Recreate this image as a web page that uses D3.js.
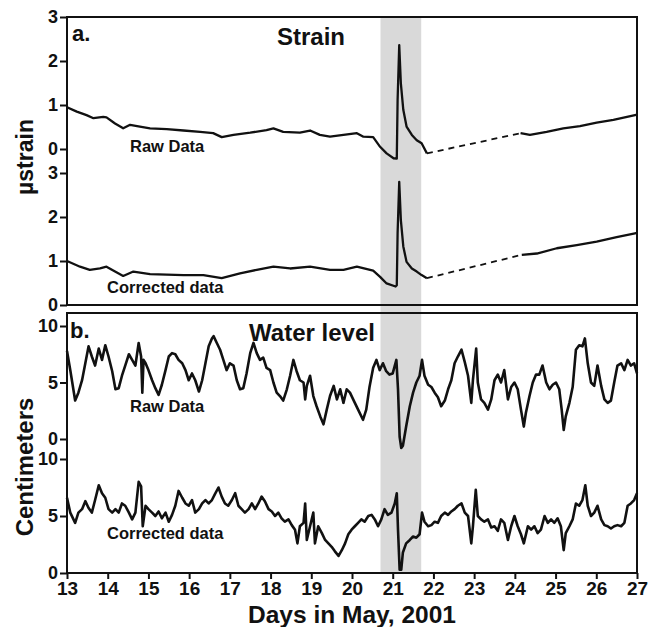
<!DOCTYPE html>
<html>
<head>
<meta charset="utf-8">
<script src="https://cdn.jsdelivr.net/npm/d3@7"></script>
<style>
  body { margin: 0; background: #fff; }
  svg text { font-family: "Liberation Sans", Arial, sans-serif; font-weight: bold; fill: #111; }
  .tick line { stroke: #111; stroke-width: 2; }
</style>
</head>
<body>
<div id="viz"></div>
<script>
// strain (microstrain), [day, value]
var strainRawA = [[13.0,0.95],[13.24,0.85],[13.48,0.77],[13.65,0.70],[13.89,0.73],[13.97,0.72],[14.18,0.58],[14.38,0.47],
  [14.55,0.55],[14.79,0.51],[15.04,0.47],[15.45,0.45],[15.86,0.42],[16.27,0.39],[16.59,0.36],[16.8,0.27],[17.09,0.32],
  [17.5,0.37],[17.9,0.43],[18.07,0.47],[18.31,0.39],[18.72,0.37],[18.97,0.42],[19.21,0.32],[19.46,0.28],[19.79,0.32],
  [20.12,0.36],[20.28,0.28],[20.52,0.27],[20.69,0.05],[20.85,-0.1],[21.02,-0.21],[21.1,-0.22],[21.12,1.11],[21.16,2.36],
  [21.2,1.49],[21.26,0.89],[21.34,0.51],[21.47,0.32],[21.59,0.2],[21.71,0.13],[21.84,-0.1]];
var strainRawB = [[24.14,0.36],[24.37,0.32],[24.78,0.39],[25.19,0.47],[25.6,0.52],[26.01,0.6],[26.42,0.66],[26.95,0.77],[27.0,0.78]];

var strainCorA = [[13.0,1.0],[13.32,0.87],[13.56,0.8],[13.81,0.83],[13.97,0.87],[14.18,0.76],[14.38,0.66],[14.63,0.76],
  [15.04,0.7],[15.45,0.69],[15.86,0.68],[16.35,0.68],[16.8,0.61],[17.25,0.72],[17.66,0.8],[18.07,0.87],[18.48,0.83],
  [18.97,0.87],[19.46,0.8],[19.79,0.8],[20.12,0.87],[20.52,0.78],[20.69,0.64],[20.85,0.49],[21.07,0.42],[21.1,0.45],
  [21.12,1.63],[21.16,2.8],[21.2,1.93],[21.26,1.33],[21.34,0.98],[21.47,0.83],[21.59,0.76],[21.71,0.68],[21.84,0.61]];
var strainCorB = [[24.17,1.14],[24.54,1.17],[25.03,1.29],[25.52,1.36],[26.01,1.44],[26.5,1.54],[26.95,1.63],[27.0,1.64]];

// water level (cm), [day, value]
var waterRaw = [[13.0,7.8],[13.08,6.1],[13.2,3.4],[13.28,4.1],[13.37,5.2],[13.45,6.7],[13.53,8.2],[13.61,7.3],[13.69,6.5],
  [13.78,8.0],[13.86,7.0],[13.94,8.3],[14.02,7.3],[14.11,6.0],[14.19,4.4],[14.27,4.5],[14.35,5.6],[14.43,6.5],[14.52,7.5],
  [14.6,7.0],[14.68,6.5],[14.76,8.5],[14.82,7.3],[14.85,4.1],[14.88,7.0],[14.93,6.7],[15.0,6.1],[15.09,5.2],[15.17,4.5],
  [15.25,3.9],[15.33,4.8],[15.42,6.1],[15.5,7.3],[15.58,7.6],[15.66,7.5],[15.74,7.0],[15.83,6.7],[15.91,6.1],[15.99,5.2],
  [16.07,5.8],[16.15,5.2],[16.24,4.2],[16.32,5.2],[16.4,6.7],[16.48,8.2],[16.56,8.9],[16.6,9.1],[16.68,8.5],[16.76,7.9],
  [16.84,7.0],[16.92,6.1],[17.0,6.7],[17.09,6.5],[17.17,5.2],[17.25,4.4],[17.33,4.5],[17.41,5.8],[17.5,7.6],[17.58,8.5],
  [17.66,7.6],[17.74,7.0],[17.82,7.2],[17.9,6.3],[17.99,6.1],[18.07,5.0],[18.15,4.1],[18.23,3.8],[18.31,3.4],[18.4,4.4],
  [18.48,5.6],[18.56,7.0],[18.64,6.0],[18.72,5.2],[18.81,5.0],[18.85,3.5],[18.89,4.7],[18.97,5.6],[19.05,3.8],[19.13,2.9],
  [19.22,2.0],[19.3,1.3],[19.38,2.6],[19.46,3.8],[19.55,4.7],[19.63,3.5],[19.71,4.4],[19.79,3.2],[19.87,4.4],[19.95,4.1],
  [20.07,3.2],[20.15,2.6],[20.27,1.7],[20.35,2.6],[20.43,4.6],[20.52,6.3],[20.6,7.0],[20.68,6.1],[20.76,6.7],[20.84,6.0],
  [20.92,5.7],[21.0,5.8],[21.09,7.0],[21.13,4.4],[21.17,0.2],[21.21,-0.8],[21.25,-0.6],[21.33,1.1],[21.42,2.9],[21.5,4.1],
  [21.58,5.0],[21.66,5.6],[21.72,7.0],[21.78,5.6],[21.87,4.8],[21.95,4.6],[22.03,4.1],[22.11,3.7],[22.19,2.9],[22.28,3.4],
  [22.36,4.4],[22.44,5.2],[22.52,6.7],[22.6,7.3],[22.69,7.9],[22.77,6.8],[22.85,5.6],[22.93,3.2],[22.97,5.2],[23.05,8.0],
  [23.09,5.0],[23.17,3.5],[23.25,3.2],[23.34,2.6],[23.42,3.5],[23.5,5.2],[23.58,5.7],[23.66,5.0],[23.74,6.1],[23.83,3.5],
  [23.91,4.6],[23.99,5.0],[24.07,4.4],[24.15,2.6],[24.22,1.1],[24.27,2.3],[24.36,3.8],[24.44,5.0],[24.52,5.7],[24.6,5.7],
  [24.68,6.5],[24.77,5.0],[24.85,4.4],[24.93,4.8],[25.01,5.0],[25.09,4.4],[25.15,2.6],[25.2,0.8],[25.25,2.0],[25.34,3.2],
  [25.42,4.6],[25.5,7.9],[25.58,8.3],[25.66,8.2],[25.72,8.9],[25.79,6.7],[25.87,5.0],[25.95,4.7],[26.03,6.5],[26.12,4.7],
  [26.2,3.5],[26.28,3.2],[26.36,3.4],[26.44,5.0],[26.52,6.5],[26.61,6.7],[26.69,6.1],[26.77,7.0],[26.85,6.5],[26.93,6.7],
  [27.0,5.8]];
var waterCor = [[13.0,6.6],[13.08,5.3],[13.2,4.4],[13.28,5.3],[13.37,5.6],[13.45,6.3],[13.53,5.7],[13.61,5.3],[13.69,6.4],
  [13.78,7.7],[13.86,7.0],[13.94,6.6],[14.02,5.6],[14.11,5.3],[14.19,5.6],[14.27,5.3],[14.35,6.1],[14.43,5.9],[14.52,5.3],
  [14.6,4.7],[14.68,5.3],[14.76,8.0],[14.82,7.6],[14.86,4.1],[14.93,5.9],[15.0,5.6],[15.09,5.3],[15.17,5.0],[15.25,5.4],
  [15.33,4.8],[15.42,5.3],[15.5,4.5],[15.58,5.1],[15.66,5.9],[15.74,7.2],[15.83,6.6],[15.91,6.1],[15.99,5.9],[16.07,6.4],
  [16.15,5.3],[16.24,5.6],[16.32,6.1],[16.4,6.4],[16.48,6.1],[16.56,6.4],[16.63,6.9],[16.72,7.5],[16.8,6.7],[16.88,6.1],
  [16.96,5.9],[17.05,6.4],[17.13,7.0],[17.21,5.9],[17.29,5.6],[17.37,5.3],[17.46,5.6],[17.54,6.1],[17.62,5.6],[17.7,6.1],
  [17.78,6.7],[17.86,6.3],[17.95,5.6],[18.03,5.4],[18.11,5.0],[18.19,5.3],[18.27,4.8],[18.35,4.5],[18.44,4.7],[18.52,4.2],
  [18.6,3.8],[18.66,2.6],[18.72,4.1],[18.81,4.4],[18.85,6.1],[18.89,2.9],[18.97,4.1],[19.05,5.3],[19.09,2.6],[19.17,4.1],
  [19.26,3.5],[19.34,2.9],[19.42,2.6],[19.5,2.3],[19.58,1.9],[19.67,1.5],[19.75,2.0],[19.83,2.6],[19.91,3.4],[19.99,3.8],
  [20.07,4.1],[20.15,4.4],[20.23,4.7],[20.31,4.5],[20.4,5.0],[20.48,5.1],[20.56,4.7],[20.64,4.1],[20.72,4.7],[20.8,5.6],
  [20.88,5.1],[20.97,5.3],[21.05,6.1],[21.1,7.0],[21.13,3.8],[21.17,0.3],[21.21,0.3],[21.25,1.8],[21.33,2.6],[21.42,2.9],
  [21.5,3.2],[21.58,3.1],[21.66,3.4],[21.72,5.3],[21.78,4.5],[21.87,4.1],[21.95,4.2],[22.03,4.5],[22.11,4.4],[22.19,5.0],
  [22.28,5.3],[22.36,5.1],[22.44,5.4],[22.52,5.6],[22.6,5.9],[22.69,6.1],[22.77,5.3],[22.85,5.0],[22.93,2.6],[22.97,4.1],
  [23.04,7.3],[23.09,5.0],[23.17,4.7],[23.25,4.5],[23.34,4.7],[23.42,4.0],[23.5,4.1],[23.58,3.7],[23.66,4.7],[23.74,4.4],
  [23.83,2.9],[23.91,4.1],[23.99,5.0],[24.07,4.1],[24.15,3.4],[24.22,2.6],[24.32,4.1],[24.4,3.8],[24.48,4.1],[24.56,3.5],
  [24.64,3.8],[24.73,5.0],[24.81,4.4],[24.89,4.7],[24.97,4.4],[25.05,4.8],[25.13,4.1],[25.2,2.0],[25.25,3.5],[25.34,4.1],
  [25.42,4.7],[25.5,6.1],[25.58,5.9],[25.66,6.4],[25.73,7.7],[25.79,5.9],[25.87,5.0],[25.95,5.3],[26.03,5.9],[26.12,4.7],
  [26.2,4.2],[26.28,4.1],[26.36,3.9],[26.44,4.1],[26.52,4.2],[26.61,4.1],[26.69,4.4],[26.77,5.9],[26.85,6.1],[26.93,6.4],
  [27.0,7.0]];

var quakeBand = [20.7, 21.7];
var dayTicks = d3.range(13, 28);
var strainTicks = [0, 1, 2, 3];
var waterTicks = [0, 5, 10];

var width = 659, height = 627;
var left = 67, right = 637;
var panelA = {top: 17, bottom: 305}, panelB = {top: 313, bottom: 573};

var svg = d3.select("#viz").append("svg")
    .attr("width", width)
    .attr("height", height);

var x = d3.scaleLinear().domain([13, 27]).range([left, right]);
var yS1 = d3.scaleLinear().domain([0, 3]).range([149, 17]),
    yS2 = d3.scaleLinear().domain([0, 3]).range([305, 173]),
    yW1 = d3.scaleLinear().domain([0, 10]).range([439, 326]),
    yW2 = d3.scaleLinear().domain([0, 10]).range([573, 459]);

// shaded band (event)
svg.append("rect")
    .attr("x", x(quakeBand[0]))
    .attr("width", x(quakeBand[1]) - x(quakeBand[0]))
    .attr("y", panelA.top)
    .attr("height", panelB.bottom - panelA.top)
    .attr("fill", "#d9d9d9");

function drawLine(data, y, sw, dash) {
  var line = d3.line().x(function(d) { return x(d[0]); }).y(function(d) { return y(d[1]); });
  svg.append("path")
      .datum(data)
      .attr("d", line)
      .attr("fill", "none")
      .attr("stroke", "#111")
      .attr("stroke-width", sw)
      .attr("stroke-linejoin", "round")
      .attr("stroke-dasharray", dash || null);
}

drawLine(strainRawA, yS1, 2.3);
drawLine(strainRawB, yS1, 2.3);
drawLine([strainRawA[strainRawA.length - 1], strainRawB[0]], yS1, 1.8, "6,5");
drawLine(strainCorA, yS2, 2.3);
drawLine(strainCorB, yS2, 2.3);
drawLine([strainCorA[strainCorA.length - 1], strainCorB[0]], yS2, 1.8, "6,5");
drawLine(waterRaw, yW1, 2.6);
drawLine(waterCor, yW2, 2.6);

// panel frames
[panelA, panelB].forEach(function(p) {
  svg.append("rect")
      .attr("x", left).attr("y", p.top)
      .attr("width", right - left).attr("height", p.bottom - p.top)
      .attr("fill", "none").attr("stroke", "#111").attr("stroke-width", 2);
});

function yAxis(scale, ticks) {
  var g = svg.append("g")
      .attr("transform", "translate(" + left + ",0)")
      .call(d3.axisLeft(scale).tickValues(ticks).tickSize(7).tickPadding(2).tickFormat(d3.format("d")));
  g.select(".domain").remove();
  g.selectAll("text").style("font-size", "18px").attr("fill", "#111");
}
yAxis(yS1, strainTicks);
yAxis(yS2, strainTicks);
yAxis(yW1, waterTicks);
yAxis(yW2, waterTicks);

var xg = svg.append("g")
    .attr("transform", "translate(0," + panelB.bottom + ")")
    .call(d3.axisBottom(x).tickValues(dayTicks).tickSize(6).tickPadding(3).tickFormat(d3.format("d")));
xg.select(".domain").remove();
xg.selectAll("text").style("font-size", "19px").attr("fill", "#111");

// labels
function label(txt, px, py, size, anchor) {
  return svg.append("text").attr("x", px).attr("y", py)
      .attr("text-anchor", anchor || "start")
      .style("font-size", size + "px").text(txt);
}
label("a.", 72, 41, 22);
label("b.", 70, 338, 22);
label("Strain", 311, 45, 24, "middle");
label("Water level", 312, 341, 24, "middle");
label("Raw Data", 130, 152, 16.5);
label("Corrected data", 107, 293, 16.5);
label("Raw Data", 130, 412, 16.5);
label("Corrected data", 107, 539, 16.5);
label("Days in May, 2001", 352, 623, 24.5, "middle");

svg.append("text")
    .attr("transform", "translate(33,157)rotate(-90)")
    .attr("text-anchor", "middle")
    .style("font-size", "23px")
    .text("\u00b5strain");
svg.append("text")
    .attr("transform", "translate(33,467)rotate(-90)")
    .attr("text-anchor", "middle")
    .style("font-size", "24px")
    .text("Centimeters");
</script>
</body>
</html>
